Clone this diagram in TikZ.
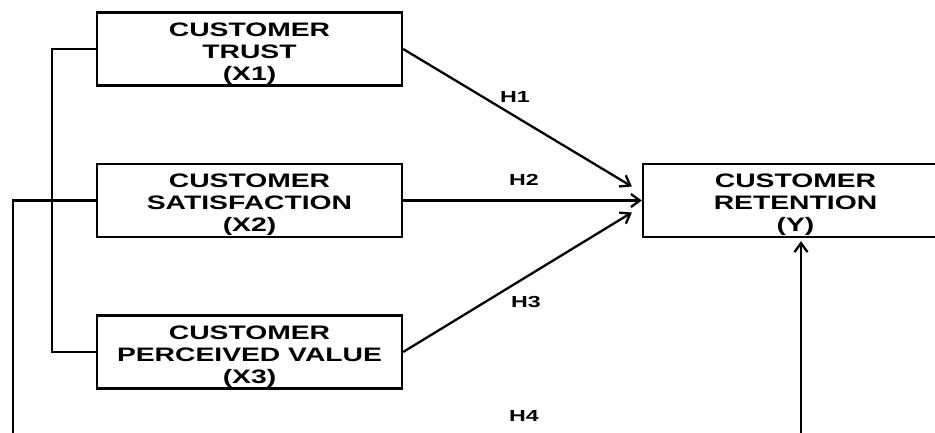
\documentclass[tikz,border=0pt]{standalone}
\usepackage{fontspec}
\setmainfont{Liberation Sans}[FakeStretch=1.45]
\usetikzlibrary{arrows.meta,calc}
\newcommand{\topgap}{\rule{0pt}{23pt}}

\begin{document}
\begin{tikzpicture}[x=1pt,y=1pt,>={Straight Barb[length=9pt,width=13pt]},
  var/.style={draw,line width=2.3pt,fill=white,minimum width=305pt,minimum height=73pt,
    align=center,inner sep=0pt,font=\bfseries\fontsize{19.5}{22}\selectfont},
  hyp/.style={font=\bfseries\fontsize{16}{18}\selectfont},
  conn/.style={line width=2.3pt}]
\useasboundingbox (0,0) rectangle (935,432);
\clip (0,0) rectangle (935,432);
\fill[white] (0,0) rectangle (935,432);
% variables
\node[var] (x1) at (249.5,383) {\topgap CUSTOMER\\TRUST\\(X1)};
\node[var] (x2) at (249.5,231.5) {\topgap CUSTOMER\\SATISFACTION\\(X2)};
\node[var] (x3) at (249.5,80) {\topgap CUSTOMER\\PERCEIVED VALUE\\(X3)};
\node[var] (y) at (795.5,231.5) {\topgap CUSTOMER\\RETENTION\\(Y)};
% hypotheses
\draw[conn,->] (x1.east) -- ($(y.west)+(-10,14)$);
\draw[conn,->] (x2.east) -- (y.west);
\draw[conn,->] (x3.east) -- ($(y.west)+(-10,-12)$);
\draw[conn] (x1.west) -- ++(-44,0) |- (x3.west);
\coordinate (h4l) at (13,-20);
\coordinate (h4r) at (801,-20);
\draw[conn,->] (x2.west) -| (h4l) -- (h4r) -- ($(h4r |- y.south)+(0,-3)$);
\node[hyp] (h1) at (515,335) {H1};
\node[hyp] (h2) at (524,252) {H2};
\node[hyp] (h3) at (526,130) {H3};
\node[hyp] (h4) at (524,16) {H4};
\end{tikzpicture}
\end{document}
